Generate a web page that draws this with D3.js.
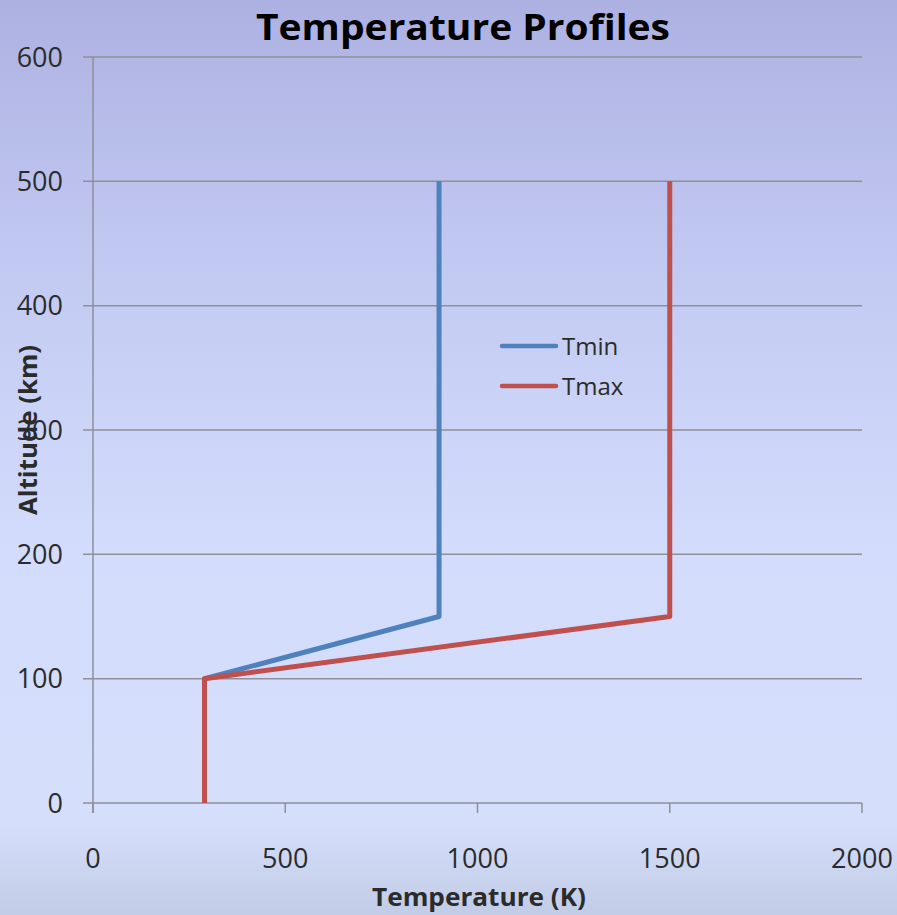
<!DOCTYPE html>
<html>
<head>
<meta charset="utf-8">
<script src="https://cdn.jsdelivr.net/npm/d3@7"></script>
<style>
  html, body { margin: 0; padding: 0; }
  svg { display: block; font-family: "Open Sans", "Liberation Sans", sans-serif; }
</style>
</head>
<body>
<svg id="chart"></svg>
<script>
/// data ///
const seriesNames = ["Tmin", "Tmax"];
const altitudes = [0, 100, 150, 500];
const tminValues = [290, 290, 900, 900];
const tmaxValues = [290, 290, 1500, 1500];
const xTicks = [0, 500, 1000, 1500, 2000];
const yTicks = [0, 100, 200, 300, 400, 500, 600];

/// dimensions ///
const width = 897;
const height = 915;
const margin = { top: 57, right: 35, bottom: 112, left: 93 };

/// colours ///
const blue = "#4f81bd";
const red = "#c0504d";
const gridColour = "#8f8f99";
const textColour = "#2b2b2b";

const svg = d3.select("#chart").attr("width", width).attr("height", height);

// background gradient
const defs = svg.append("defs");
const grad = defs.append("linearGradient")
  .attr("id", "bg").attr("x1", 0).attr("y1", 0).attr("x2", 0).attr("y2", 1);
[[0, "#adb1e2"], [0.3, "#c3caf2"], [0.6, "#d3dcfc"], [0.9, "#d5dffb"], [0.95, "#cbd5f0"], [1, "#c2cce6"]]
  .forEach(([o, c]) => grad.append("stop").attr("offset", o).attr("stop-color", c));
svg.append("rect").attr("width", width).attr("height", height).attr("fill", "url(#bg)");

/// scales ///
const x = d3.scaleLinear().domain([0, 2000]).range([margin.left, width - margin.right]);
const y = d3.scaleLinear().domain([0, 600]).range([height - margin.bottom, margin.top]);

// gridlines with outward ticks
svg.append("g")
  .selectAll("line")
  .data(yTicks)
  .join("line")
    .attr("x1", margin.left - 10)
    .attr("x2", width - margin.right)
    .attr("y1", d => y(d))
    .attr("y2", d => y(d))
    .attr("stroke", gridColour)
    .attr("stroke-width", 1.5);

// y axis line
svg.append("line")
  .attr("x1", margin.left).attr("x2", margin.left)
  .attr("y1", margin.top).attr("y2", y(0) + 10)
  .attr("stroke", gridColour).attr("stroke-width", 1.5);

// x axis ticks
svg.append("g")
  .selectAll("line")
  .data(xTicks)
  .join("line")
    .attr("x1", d => x(d)).attr("x2", d => x(d))
    .attr("y1", y(0)).attr("y2", y(0) + 10)
    .attr("stroke", gridColour).attr("stroke-width", 1.5);

// y tick labels
svg.append("g")
  .selectAll("text")
  .data(yTicks)
  .join("text")
    .attr("x", margin.left - 30)
    .attr("y", d => y(d))
    .attr("dy", "0.36em")
    .attr("text-anchor", "end")
    .attr("font-size", 27)
    .attr("fill", textColour)
    .text(d => d);

// x tick labels
svg.append("g")
  .selectAll("text")
  .data(xTicks)
  .join("text")
    .attr("x", d => x(d))
    .attr("y", y(0) + 55)
    .attr("dy", "0.36em")
    .attr("text-anchor", "middle")
    .attr("font-size", 27)
    .attr("fill", textColour)
    .text(d => d);

/// lines ///
const series = [
  { name: seriesNames[0], values: tminValues, colour: blue },
  { name: seriesNames[1], values: tmaxValues, colour: red }
];
const line = d3.line()
  .x(d => x(d[0]))
  .y(d => y(d[1]));

svg.append("g")
  .selectAll("path")
  .data(series)
  .join("path")
    .attr("d", s => line(s.values.map((v, i) => [v, altitudes[i]])))
    .attr("fill", "none")
    .attr("stroke", s => s.colour)
    .attr("stroke-width", 5)
    .attr("stroke-linejoin", "round");

/// legend ///
const legend = svg.append("g").attr("transform", "translate(502, 346)");
const legendItem = legend.selectAll("g")
  .data(series)
  .join("g")
    .attr("transform", (d, i) => `translate(0, ${i * 40})`);
legendItem.append("line")
  .attr("x1", 0).attr("x2", 54)
  .attr("stroke", d => d.colour)
  .attr("stroke-width", 4.5)
  .attr("stroke-linecap", "round");
legendItem.append("text")
  .attr("x", 60)
  .attr("dy", "0.36em")
  .attr("font-size", 24)
  .attr("fill", textColour)
  .text(d => d.name);

/// titles ///
svg.append("text")
  .attr("x", 463).attr("y", 40)
  .attr("text-anchor", "middle")
  .attr("font-size", 36)
  .attr("font-weight", "bold")
  .attr("fill", "#000")
  .attr("textLength", 414)
  .attr("lengthAdjust", "spacingAndGlyphs")
  .text("Temperature Profiles");

svg.append("text")
  .attr("x", 479).attr("y", 906)
  .attr("text-anchor", "middle")
  .attr("font-size", 25)
  .attr("font-weight", "bold")
  .attr("fill", textColour)
  .attr("textLength", 214)
  .attr("lengthAdjust", "spacingAndGlyphs")
  .text("Temperature (K)");

svg.append("text")
  .attr("transform", "translate(37, 430) rotate(-90)")
  .attr("text-anchor", "middle")
  .attr("font-size", 25)
  .attr("font-weight", "bold")
  .attr("fill", textColour)
  .attr("textLength", 170)
  .attr("lengthAdjust", "spacingAndGlyphs")
  .text("Altitude (km)");
</script>
</body>
</html>
